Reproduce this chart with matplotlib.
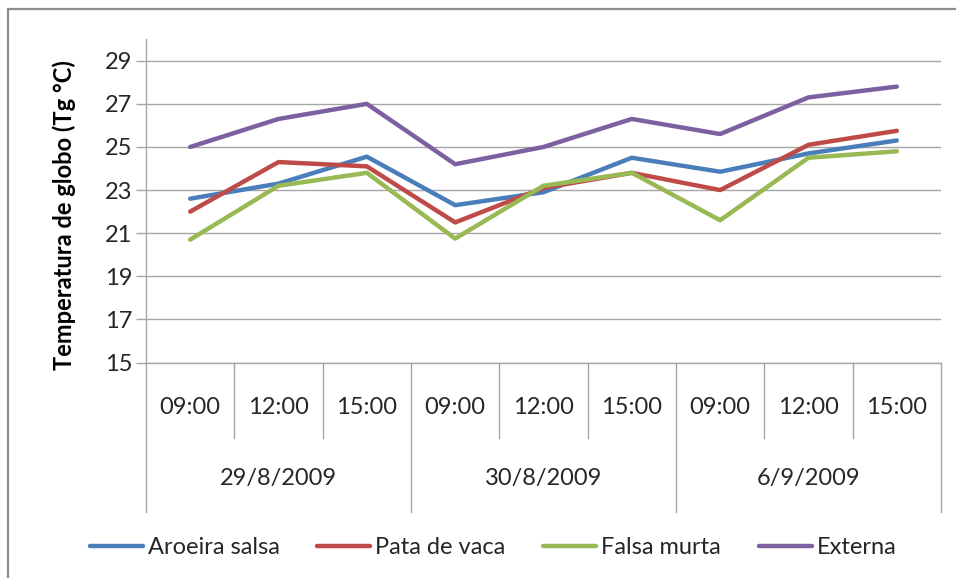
import matplotlib.pyplot as plt
from matplotlib.patches import Rectangle

hours = ["09:00", "12:00", "15:00"]
dates = ["29/8/2009", "30/8/2009", "6/9/2009"]

aroeira = [22.6, 23.3, 24.55, 22.3, 22.9, 24.5, 23.85, 24.7, 25.3]
pata = [22.0, 24.3, 24.1, 21.5, 23.1, 23.8, 23.0, 25.1, 25.75]
falsa = [20.7, 23.2, 23.8, 20.75, 23.2, 23.8, 21.6, 24.5, 24.8]
externa = [25.0, 26.3, 27.0, 24.2, 25.0, 26.3, 25.6, 27.3, 27.8]

series = [
    ("Aroeira salsa", aroeira, "#4A7EBB"),
    ("Pata de vaca", pata, "#BE4B48"),
    ("Falsa murta", falsa, "#98B954"),
    ("Externa", externa, "#7D60A0"),
]

plt.rcParams["font.family"] = ["Lato", "DejaVu Sans"]
grid_c = "#A6A6A6"
txt_c = "#262626"

fig = plt.figure(figsize=(9.56, 5.78), dpi=100)
ax = fig.add_axes([146 / 956, 1 - 362.5 / 578, (941 - 146) / 956, (362.5 - 39.2) / 578])

# outer chart border
fig.patches.append(Rectangle((8 / 956, -0.1), 1.2, 1 - 9 / 578 + 0.1,
                             transform=fig.transFigure, fill=False,
                             edgecolor="#8C8C8C", lw=1.6))

x = list(range(len(hours) * len(dates)))
for name, vals, col in series:
    ax.plot(x, vals, color=col, lw=3.2, label=name, solid_capstyle="round", zorder=3)

ax.set_xlim(-0.5, len(x) - 0.5)
ax.set_ylim(15, 30)
ax.set_yticks(range(15, 30, 2))
ax.yaxis.grid(True, color=grid_c, lw=1.0)
ax.set_axisbelow(True)
ax.tick_params(axis="y", length=7, color=grid_c, width=1.0, pad=3,
               labelsize=17, labelcolor=txt_c)
ax.set_xticks([])
for s in ["top", "right"]:
    ax.spines[s].set_visible(False)
for s in ["left", "bottom"]:
    ax.spines[s].set_color(grid_c)
    ax.spines[s].set_linewidth(1.0)
ax.spines["left"].set_bounds(15, 30)

# multi-level category axis
tr = ax.get_xaxis_transform()
inner_bot = -(438 - 362.5) / 323.3
outer_bot = -(512 - 362.5) / 323.3
for i, xi in enumerate(x):
    ax.text(xi, -(407 - 362.5) / 323.3, hours[i % 3], transform=tr,
            ha="center", va="center", fontsize=17, color=txt_c)
    if i % 3 != 0:
        ax.plot([xi - 0.5, xi - 0.5], [0, inner_bot], transform=tr,
                color=grid_c, lw=1.0, clip_on=False)
for g, d in enumerate(dates):
    ax.text(g * 3 + 1, -(478 - 362.5) / 323.3, d, transform=tr,
            ha="center", va="center", fontsize=17, color=txt_c)
for b in range(len(dates) + 1):
    xb = b * 3 - 0.5
    ax.plot([xb, xb], [0, outer_bot], transform=tr,
            color=grid_c, lw=1.0, clip_on=False)

fig.text(64 / 956, 1 - 215 / 578, "Temperatura de globo (Tg °C)", rotation=90,
         ha="center", va="center", fontsize=17, fontweight="bold", color="black")

fig.legend(loc="center", bbox_to_anchor=(493 / 956, 1 - 548 / 578), ncol=4,
           frameon=False, fontsize=17, handlelength=2.25, handletextpad=0.2,
           columnspacing=1.6, labelcolor=txt_c)

fig.savefig("out.png", dpi=100)
